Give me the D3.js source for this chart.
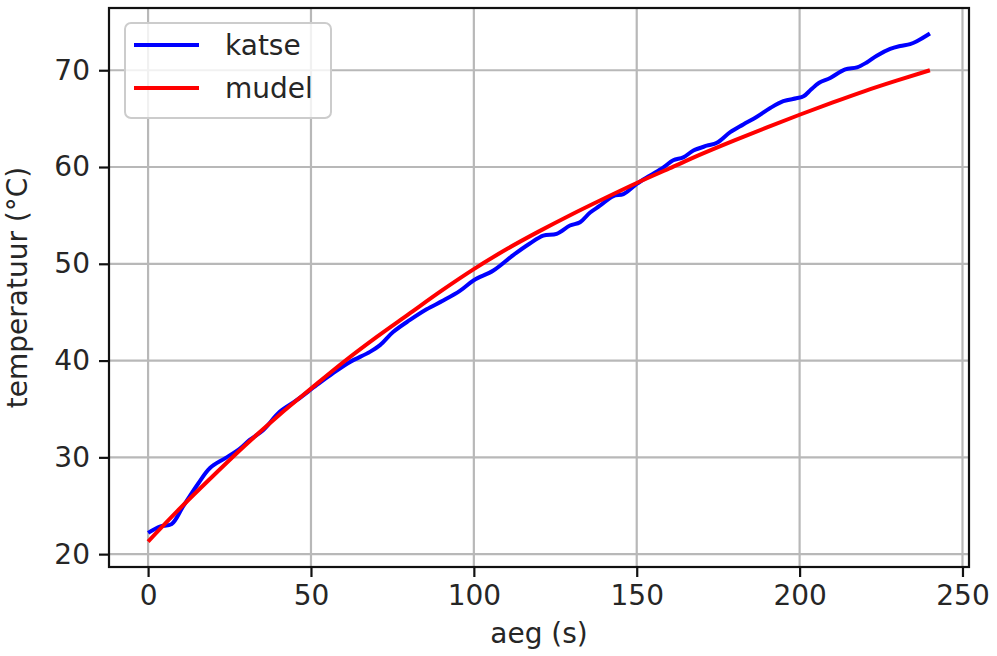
<!DOCTYPE html>
<html>
<head>
<meta charset="utf-8">
<script src="https://cdn.jsdelivr.net/npm/d3@7"></script>
<style>
  html, body { margin: 0; padding: 0; background: #fff; }
  svg { display: block; }
</style>
</head>
<body>
<div id="chart"></div>
<script>
// Measured vs model temperature curve

const katseTime = [0, 3.6, 7.2, 10.7, 15.4, 19, 23.6, 28.2, 31.2, 35.3, 40.4, 45.6, 51.7, 56.8, 62, 68.1, 71.2, 75.2, 80.4, 85.5, 90.6, 95.7, 100, 106, 112.1, 117.2, 121.3, 125.4, 129.5, 132.6, 135.7, 138.7, 142.8, 145.9, 150, 154, 158.2, 161.2, 164.3, 167.4, 171.5, 174.6, 178.7, 182.7, 186.9, 191, 195, 199, 201.2, 203.5, 206, 209.4, 214, 217.6, 220.6, 223.7, 227.8, 230.9, 233.9, 236, 240];
const katseTemp = [22.2, 22.85, 23.1, 24.9, 27.3, 28.9, 29.9, 30.9, 31.8, 32.8, 34.7, 35.9, 37.45, 38.7, 39.85, 40.9, 41.6, 42.95, 44.2, 45.3, 46.2, 47.2, 48.3, 49.3, 50.9, 52.1, 52.9, 53.1, 53.95, 54.3, 55.3, 56.0, 57.0, 57.2, 58.25, 59.1, 59.96, 60.7, 61.0, 61.7, 62.2, 62.5, 63.6, 64.4, 65.2, 66.1, 66.8, 67.1, 67.3, 68.0, 68.7, 69.2, 70.1, 70.3, 70.8, 71.5, 72.2, 72.5, 72.7, 73.0, 73.8];

const mudelTime = [0, 10, 20, 30, 40, 50, 60, 70, 80, 90, 100, 110, 120, 130, 140, 150, 160, 170, 180, 190, 200, 210, 220, 230, 240];
const mudelTemp = [21.3, 24.8, 28.1, 31.3, 34.3, 37.1, 39.85, 42.4, 44.8, 47.2, 49.45, 51.5, 53.35, 55.1, 56.75, 58.35, 59.85, 61.35, 62.75, 64.1, 65.4, 66.65, 67.85, 68.95, 70.0];

const xTicks = [0, 50, 100, 150, 200, 250];
const yTicks = [20, 30, 40, 50, 60, 70];
const seriesNames = ["katse", "mudel"];
const seriesColors = ["#0000ff", "#ff0000"];

const W = 997, H = 656;
const margin = { top: 8, right: 28, bottom: 89, left: 109 };
const width = W - margin.left - margin.right;
const height = H - margin.top - margin.bottom;
const fontFamily = "DejaVu Sans, sans-serif";
const textColor = "#262626";

const svg = d3.select("#chart").append("svg")
    .attr("width", W)
    .attr("height", H);

const g = svg.append("g")
    .attr("transform", `translate(${margin.left},${margin.top})`);

const x = d3.scaleLinear().domain([-12, 252]).range([0, width]);
const y = d3.scaleLinear().domain([18.67, 76.43]).range([height, 0]);

// grid
g.append("g").selectAll("line")
    .data(xTicks)
    .enter().append("line")
    .attr("x1", d => x(d)).attr("x2", d => x(d))
    .attr("y1", 0).attr("y2", height)
    .attr("stroke", "#b8b8b8")
    .attr("stroke-width", 2.2);

g.append("g").selectAll("line")
    .data(yTicks)
    .enter().append("line")
    .attr("x1", 0).attr("x2", width)
    .attr("y1", d => y(d)).attr("y2", d => y(d))
    .attr("stroke", "#b8b8b8")
    .attr("stroke-width", 2.2);

// axes
const xAxis = g.append("g")
    .attr("transform", `translate(0,${height})`)
    .call(d3.axisBottom(x).tickValues(xTicks).tickSize(10).tickPadding(8).tickSizeOuter(0));

const yAxis = g.append("g")
    .call(d3.axisLeft(y).tickValues(yTicks).tickSize(10).tickPadding(9).tickSizeOuter(0));

[xAxis, yAxis].forEach(ax => {
    ax.select(".domain").remove();
    ax.selectAll(".tick line").attr("stroke", "#111").attr("stroke-width", 2.2);
    ax.selectAll(".tick text")
        .attr("font-family", fontFamily)
        .attr("font-size", 28)
        .attr("fill", textColor);
});

// lines
const katseData = katseTime.map((t, i) => [t, katseTemp[i]]);
const mudelData = mudelTime.map((t, i) => [t, mudelTemp[i]]);

const line = d3.line()
    .x(d => x(d[0]))
    .y(d => y(d[1]));

g.append("path")
    .datum(katseData)
    .attr("fill", "none")
    .attr("stroke", seriesColors[0])
    .attr("stroke-width", 4)
    .attr("stroke-linejoin", "round")
    .attr("d", line.curve(d3.curveCatmullRom)(katseData));

g.append("path")
    .datum(mudelData)
    .attr("fill", "none")
    .attr("stroke", seriesColors[1])
    .attr("stroke-width", 4)
    .attr("d", line.curve(d3.curveMonotoneX)(mudelData));

// frame
g.append("rect")
    .attr("width", width)
    .attr("height", height)
    .attr("fill", "none")
    .attr("stroke", "#111")
    .attr("stroke-width", 2.2);

// axis titles
g.append("text")
    .attr("x", width / 2)
    .attr("y", height + 76)
    .attr("text-anchor", "middle")
    .attr("font-family", fontFamily)
    .attr("font-size", 28)
    .attr("fill", textColor)
    .text("aeg (s)");

g.append("text")
    .attr("transform", `translate(${-82},${height / 2}) rotate(-90)`)
    .attr("text-anchor", "middle")
    .attr("font-family", fontFamily)
    .attr("font-size", 28)
    .attr("fill", textColor)
    .text("temperatuur (°C)");

// legend
const legend = g.append("g")
    .attr("transform", "translate(16,15)");

legend.append("rect")
    .attr("width", 206)
    .attr("height", 95)
    .attr("rx", 6)
    .attr("fill", "#fff")
    .attr("fill-opacity", 0.8)
    .attr("stroke", "#cccccc")
    .attr("stroke-width", 2);

const items = legend.selectAll(".legend-item")
    .data(seriesNames)
    .enter().append("g")
    .attr("class", "legend-item")
    .attr("transform", (d, i) => `translate(0,${22 + i * 43})`);

items.append("line")
    .attr("x1", 9).attr("x2", 74)
    .attr("stroke", (d, i) => seriesColors[i])
    .attr("stroke-width", 4);

items.append("text")
    .attr("x", 100)
    .attr("dy", "0.35em")
    .attr("font-family", fontFamily)
    .attr("font-size", 28)
    .attr("fill", textColor)
    .text(d => d);
</script>
</body>
</html>
